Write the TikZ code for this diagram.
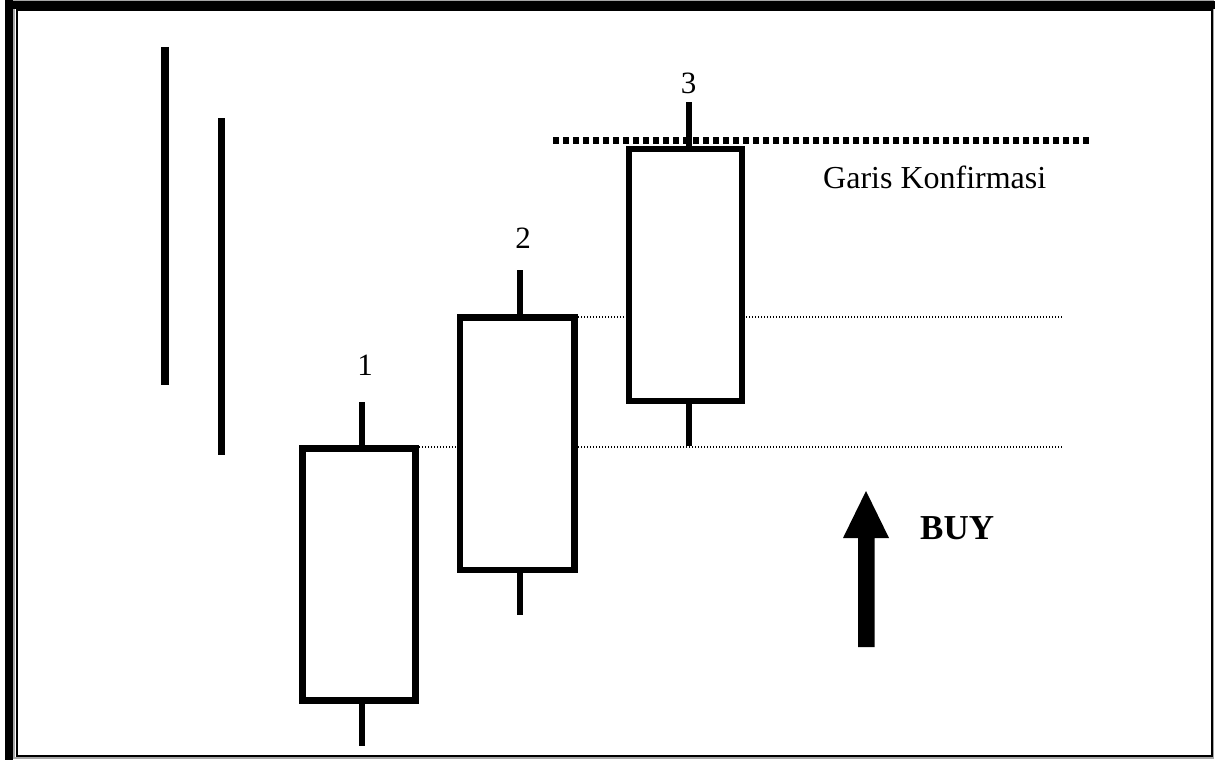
\documentclass[tikz,border=0pt]{standalone}
\usepackage{fontspec}
\setmainfont{Liberation Serif}
\begin{document}
\begin{tikzpicture}[x=1pt,y=-1pt,
  body/.style={draw=black,fill=white,line width=6.5pt},
  wick/.style={draw=black,line width=6.5pt},
  bar/.style={draw=black,line width=7.5pt},
  thindot/.style={draw=black,line width=1.2pt,dash pattern=on 1.2pt off 1.8pt},
  thickdot/.style={draw=black,line width=6.5pt,dash pattern=on 6pt off 4pt},
  lbl/.style={font=\fontsize{31}{36}\selectfont,inner sep=0pt,anchor=base}]
\useasboundingbox (0,0) rectangle (1216,760);
% frame
\draw[gray!70,line width=1.5pt] (14,1) rectangle (1213,758);
\draw[black,line width=2pt] (16.5,10) rectangle (1212,756);
\fill[black] (5,0) rectangle (12.5,760);
\fill[black] (5,1.5) rectangle (1215,9.5);
% left bars
\coordinate (a1) at (165,47); \coordinate (a2) at (165,385);
\coordinate (b1) at (221.5,118); \coordinate (b2) at (221.5,455);
\draw[bar] (a1) -- (a2);
\draw[bar] (b1) -- (b2);
% reference lines
\coordinate (d1) at (553,140.5); \coordinate (d2) at (1092,140.5);
\coordinate (t1) at (416,447); \coordinate (t2) at (1062,447);
\coordinate (u1) at (575,317); \coordinate (u2) at (1062,317);
\draw[thickdot] (d1) -- (d2);
\draw[thindot] (t1) -- (t2);
\draw[thindot] (u1) -- (u2);
% candle 1
\coordinate (c1t) at (362,402); \coordinate (c1b) at (362,746);
\draw[wick] (c1t) -- (c1b);
\draw[body] (302.5,448.5) rectangle (415.5,700.5);
% candle 2
\coordinate (c2t) at (520,270); \coordinate (c2b) at (520,615);
\draw[wick] (c2t) -- (c2b);
\draw[body] (460,317.5) rectangle (574.5,570);
% candle 3
\coordinate (c3t) at (689,102); \coordinate (c3b) at (689,446);
\draw[wick] (c3t) -- (c3b);
\draw[body] (629,149) rectangle (742,401);
% labels
\node[lbl] (n1) at (365,375) {1};
\node[lbl] (n2) at (523,248) {2};
\node[lbl] (n3) at (688.5,93) {3};
\node[font=\fontsize{32}{38}\selectfont,inner sep=0pt,anchor=base west] (gk) at (823,188) {Garis Konfirmasi};
% arrow
\fill[black] (858,647) -- (858,538) -- (843,538) -- (866,491) -- (889,538) -- (874.5,538) -- (874.5,647) -- cycle;
\node[font=\fontsize{35}{40}\selectfont\bfseries,inner sep=0pt,anchor=base west] (buy) at (920,539) {BUY};
\end{tikzpicture}
\end{document}
